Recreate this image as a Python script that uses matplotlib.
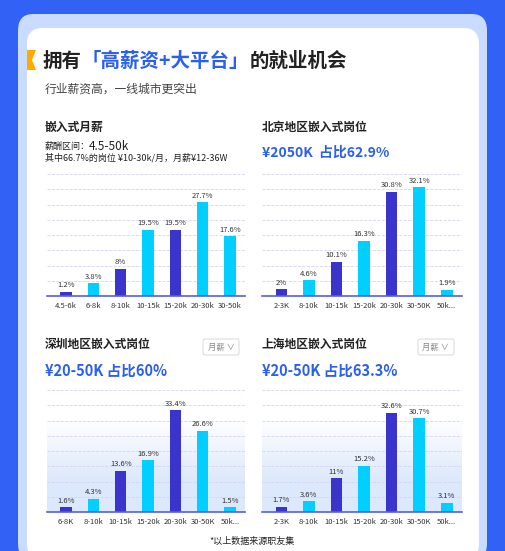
import matplotlib.pyplot as plt
from matplotlib.colors import LinearSegmentedColormap
from matplotlib.patches import FancyBboxPatch, Polygon

plt.rcParams['font.family'] = ['Noto Sans CJK SC', 'DejaVu Sans']

W, H = 505, 551
DARK = '#3a33cc'
CYAN = '#00cfff'
BLUE_TXT = '#2b5ff0'
COLORS = [DARK, CYAN, DARK, CYAN, DARK, CYAN, CYAN]

salary_cats = ['4.5-6k', '6-8k', '8-10k', '10-15k', '15-20k', '20-30k', '30-50k']
salary_vals = [1.2, 3.8, 8, 19.5, 19.5, 27.7, 17.6]

bj_cats = ['2-3K', '8-10k', '10-15k', '15-20k', '20-30k', '30-50K', '50k...']
bj_vals = [2, 4.6, 10.1, 16.3, 30.8, 32.1, 1.9]

sz_cats = ['6-8K', '8-10k', '10-15k', '15-20k', '20-30k', '30-50K', '50k...']
sz_vals = [1.6, 4.3, 13.6, 16.9, 33.4, 26.6, 1.5]

sh_cats = ['2-3K', '8-10k', '10-15k', '15-20k', '20-30k', '30-50K', '50k...']
sh_vals = [1.7, 3.6, 11, 15.2, 32.6, 30.7, 3.1]

fig = plt.figure(figsize=(W / 100, H / 100), dpi=100)
fig.patch.set_facecolor('#3262f5')


def px(x, y):
    return x / W, 1 - y / H


# card frame (behind the axes)
fig.patches.append(FancyBboxPatch(px(18, 560), 469 / W, 546 / H, boxstyle='round,pad=0,rounding_size=0.03',
                                  transform=fig.transFigure, fc='#c9dbff', ec='none', zorder=-2))
fig.patches.append(FancyBboxPatch(px(27, 560), 452 / W, 532 / H, boxstyle='round,pad=0,rounding_size=0.03',
                                  transform=fig.transFigure, fc='white', ec='none', zorder=-1))
fig.patches.append(Polygon([px(27, 50), px(36, 50), px(32, 60), px(36, 70), px(27, 70)], closed=True,
                           transform=fig.transFigure, fc='#ffaa00', ec='none', zorder=-1))

# title in three coloured pieces laid end to end
renderer = fig.canvas.get_renderer()
x = 43
for part, col in [('拥有', '#222'), ('「高薪资+大平台」', BLUE_TXT), ('的就业机会', '#222')]:
    t = fig.text(*px(x, 61), part, fontsize=14, weight='bold', color=col, va='center')
    x += t.get_window_extent(renderer).width

fig.text(*px(45, 89), '行业薪资高，一线城市更突出', fontsize=8.5, color='#444', va='center')

fig.text(*px(45, 127), '嵌入式月薪', fontsize=8.5, weight='bold', color='#222', va='center')
fig.text(*px(45, 146), '薪酬区间：', fontsize=6.5, color='#222', va='center')
fig.text(*px(89, 146), '4.5-50k', fontsize=8.5, color='#222', va='center')
fig.text(*px(45, 158), '其中66.7%的岗位 ¥10-30k/月，月薪¥12-36W', fontsize=6.5, color='#222', va='center')

fig.text(*px(262, 127), '北京地区嵌入式岗位', fontsize=8.5, weight='bold', color='#222', va='center')
fig.text(*px(262, 153), '¥2050K  占比62.9%', fontsize=10, weight='bold', color=BLUE_TXT, va='center')

fig.text(*px(45, 344), '深圳地区嵌入式岗位', fontsize=8.5, weight='bold', color='#222', va='center')
fig.text(*px(45, 371), '¥20-50K 占比60%', fontsize=10.5, weight='bold', color=BLUE_TXT, va='center')
fig.text(*px(262, 344), '上海地区嵌入式岗位', fontsize=8.5, weight='bold', color='#222', va='center')
fig.text(*px(262, 371), '¥20-50K 占比63.3%', fontsize=10.5, weight='bold', color=BLUE_TXT, va='center')

for bx in (203, 418):
    fig.patches.append(FancyBboxPatch(px(bx, 355), 36 / W, 16 / H, boxstyle='round,pad=0,rounding_size=0.004',
                                      transform=fig.transFigure, fc='white', ec='#dddddd', lw=0.8))
    fig.text(*px(bx + 18, 347), '月薪 ∨', fontsize=6, color='#888', ha='center', va='center')

fig.text(*px(252, 541), '*以上数据来源职友集', fontsize=6.5, color='#222', ha='center', va='center')

grad = LinearSegmentedColormap.from_list('g', ['#ffffff', '#dce8fb'])


def bar_panel(rect, cats, vals, ymax, gradient):
    x0, y0, x1, y1 = rect
    ax = fig.add_axes([x0 / W, 1 - y1 / H, (x1 - x0) / W, (y1 - y0) / H])
    xs = range(len(cats))
    if gradient:
        ax.imshow([[0], [1]], extent=(-0.7, len(cats) - 0.45, 0, ymax), aspect='auto',
                  cmap=grad, interpolation='bilinear', zorder=0)
    ax.bar(xs, vals, width=0.42, color=COLORS, zorder=2)
    for xi, v in zip(xs, vals):
        ax.text(xi, v + ymax * 0.02, f'{v:g}%', ha='center', va='bottom', fontsize=5.5, color='#333', zorder=3)
    ax.set_xlim(-0.7, len(cats) - 0.45)
    ax.set_ylim(0, ymax)
    ax.set_xticks(list(xs))
    ax.set_xticklabels(cats, fontsize=5.5, color='#333')
    ax.tick_params(length=0, pad=4)
    ax.set_yticks([ymax * i / 8 for i in range(1, 9)])
    ax.set_yticklabels([])
    ax.grid(axis='y', color='#d6d6ee', linestyle='--', lw=0.6, zorder=1)
    for s in ('top', 'right', 'left'):
        ax.spines[s].set_visible(False)
    ax.spines['bottom'].set_color('#5560dd')
    ax.spines['bottom'].set_linewidth(1.2)
    ax.set_facecolor('none')


bar_panel((47, 174, 245, 296), salary_cats, salary_vals, 36, False)
bar_panel((262, 174, 462, 296), bj_cats, bj_vals, 36, False)
bar_panel((47, 390, 245, 512), sz_cats, sz_vals, 40, True)
bar_panel((262, 390, 462, 512), sh_cats, sh_vals, 40, True)

fig.savefig('out.png', dpi=100, facecolor=fig.get_facecolor())
